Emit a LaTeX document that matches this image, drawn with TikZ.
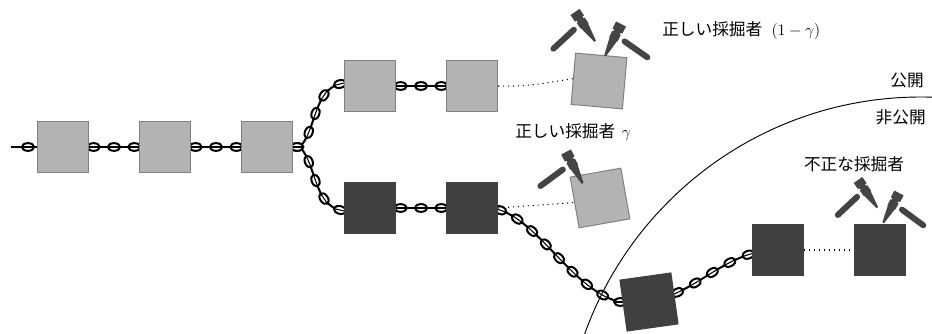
\documentclass[tikz,border=0pt]{standalone}
\usepackage{fontspec}
\newfontfamily\jpfont{Noto Sans CJK JP}
\usetikzlibrary{decorations.markings}

\definecolor{lightblk}{HTML}{B3B3B3}
\definecolor{lightedge}{HTML}{808080}
\definecolor{darkblk}{HTML}{404040}
\definecolor{pickcol}{HTML}{444444}

\pgfdeclarelayer{back}
\pgfsetlayers{back,main}

% one chain ring, drawn in the local frame of the path
\newcommand\chainring{%
  \draw[black, fill=white, line width=1.5pt] (0,0) ellipse [x radius=4.6pt, y radius=2.9pt];
  \draw[black, line width=0.8pt] (-4.6pt,0) -- (4.6pt,0);}

\tikzset{
  block/.style={rectangle, minimum size=38.6pt, inner sep=0pt, line width=0.75pt},
  pending/.style={block, fill=lightblk, draw=lightedge},
  withheld/.style={block, fill=darkblk, draw=darkblk},
  chainlinks/.style 2 args={line width=1.5pt, postaction={decorate,
      decoration={markings, mark=between positions #1 and 0.999 step #2 with {\chainring}}}},
  chainstub/.style={line width=1.5pt, postaction={decorate,
      decoration={markings, mark=between positions 12.75pt and 1 step 15pt with {\chainring}}}},
  dots/.style={line width=0.8pt, dash pattern=on 0.8pt off 2.9pt},
  lbl/.style={inner sep=0pt, font=\fontsize{12.5}{14}\selectfont\jpfont},
  pics/pickaxe/.style={code={
    \fill[pickcol] (0,-5.5) -- (8,-5.5) -- (8,-3.5) -- (10,-3.5) -- (10,-4.8) -- (17,-4.8)
      -- (17,-4.2) -- (35.5,-1) -- (35.5,1) -- (17,4.2) -- (17,4.8) -- (10,4.8)
      -- (10,3.5) -- (8,3.5) -- (8,5.5) -- (0,5.5) -- cycle;
    \draw[pickcol, line width=4.5pt, line cap=round] (14,11) -- (18,38.5);
  }}
}

\begin{document}
\begin{tikzpicture}[x=0.75pt, y=-0.75pt]
\useasboundingbox (0,0) rectangle (932,334);

% boundary between the public and the private chain
\begin{scope}
  \clip (0,0) rectangle (932,334);
  \draw[line width=0.7pt] (921,454) circle [radius=357];
\end{scope}

% blocks
\node[pending] (b1) at (63,147) {};
\node[pending] (b2) at (165,147) {};
\node[pending] (b3) at (267,147) {};
\node[pending] (u1) at (370,86) {};
\node[pending] (u2) at (472,86) {};
\node[pending, rotate=-5] (t1) at (599,81) {};
\node[withheld] (l1) at (370,208) {};
\node[withheld] (l2) at (472,208) {};
\node[pending, rotate=10] (t2) at (600,198) {};
\node[withheld, rotate=8] (d3) at (649,302) {};
\node[withheld] (d4) at (778,250) {};
\node[withheld] (d5) at (880,250) {};

\coordinate (start) at (11,147);

% chains and pending links behind the blocks
\begin{pgfonlayer}{back}
  \draw[chainstub] (start) -- (b1.center);
  \draw[chainlinks={0.1}{0.2}] (b1.center) -- (b2.center);
  \draw[chainlinks={0.1}{0.2}] (b2.center) -- (b3.center);
  \draw[chainlinks={0.0714}{0.1428}] (b3.center) -- (300,147)
      .. controls (316,130) and (314,90) .. (340,84) -- (u1.center);
  \draw[chainlinks={0.0714}{0.1428}] (b3.center) -- (300,147)
      .. controls (316,164) and (314,204) .. (340,210) -- (l1.center);
  \draw[chainlinks={0.1}{0.2}] (u1.center) -- (u2.center);
  \draw[chainlinks={0.1}{0.2}] (l1.center) -- (l2.center);
  \draw[chainlinks={0.0455}{0.0909}] (l2.center) -- (490,208)
      .. controls (535,212) and (570,290) .. (620,302) -- (d3.center);
  \draw[chainlinks={0.0714}{0.1428}] (d3.center)
      .. controls (700,292) and (725,250) .. (d4.center);
  \draw[dots] (u2.east) .. controls (530,87) and (550,82) .. (t1.west);
  \draw[dots] (l2.east) -- (t2.west);
  \draw[dots] (d4.east) -- (d5.west);
\end{pgfonlayer}

% miners
\pic[rotate=-55.5] at (575,12) {pickaxe};
\pic[rotate=-116.6, yscale=-1] at (621,24) {pickaxe};
\pic[rotate=-62] at (566,152) {pickaxe};
\pic[rotate=-55, scale=0.95] at (858,180) {pickaxe};
\pic[rotate=-118, yscale=-1, scale=0.95] at (899,193) {pickaxe};

% labels
\node[lbl, anchor=west] (honest) at (662,31) {正しい採掘者\hspace{7pt}$(1-\gamma)$};
\node[lbl, anchor=west] (honestg) at (515,132) {正しい採掘者\hspace{5pt}$\gamma$};
\node[lbl] (selfish) at (854,164) {不正な採掘者};
\node[lbl, anchor=east] (public) at (924,80) {公開};
\node[lbl, anchor=east] (private) at (926,117) {非公開};
\end{tikzpicture}
\end{document}
